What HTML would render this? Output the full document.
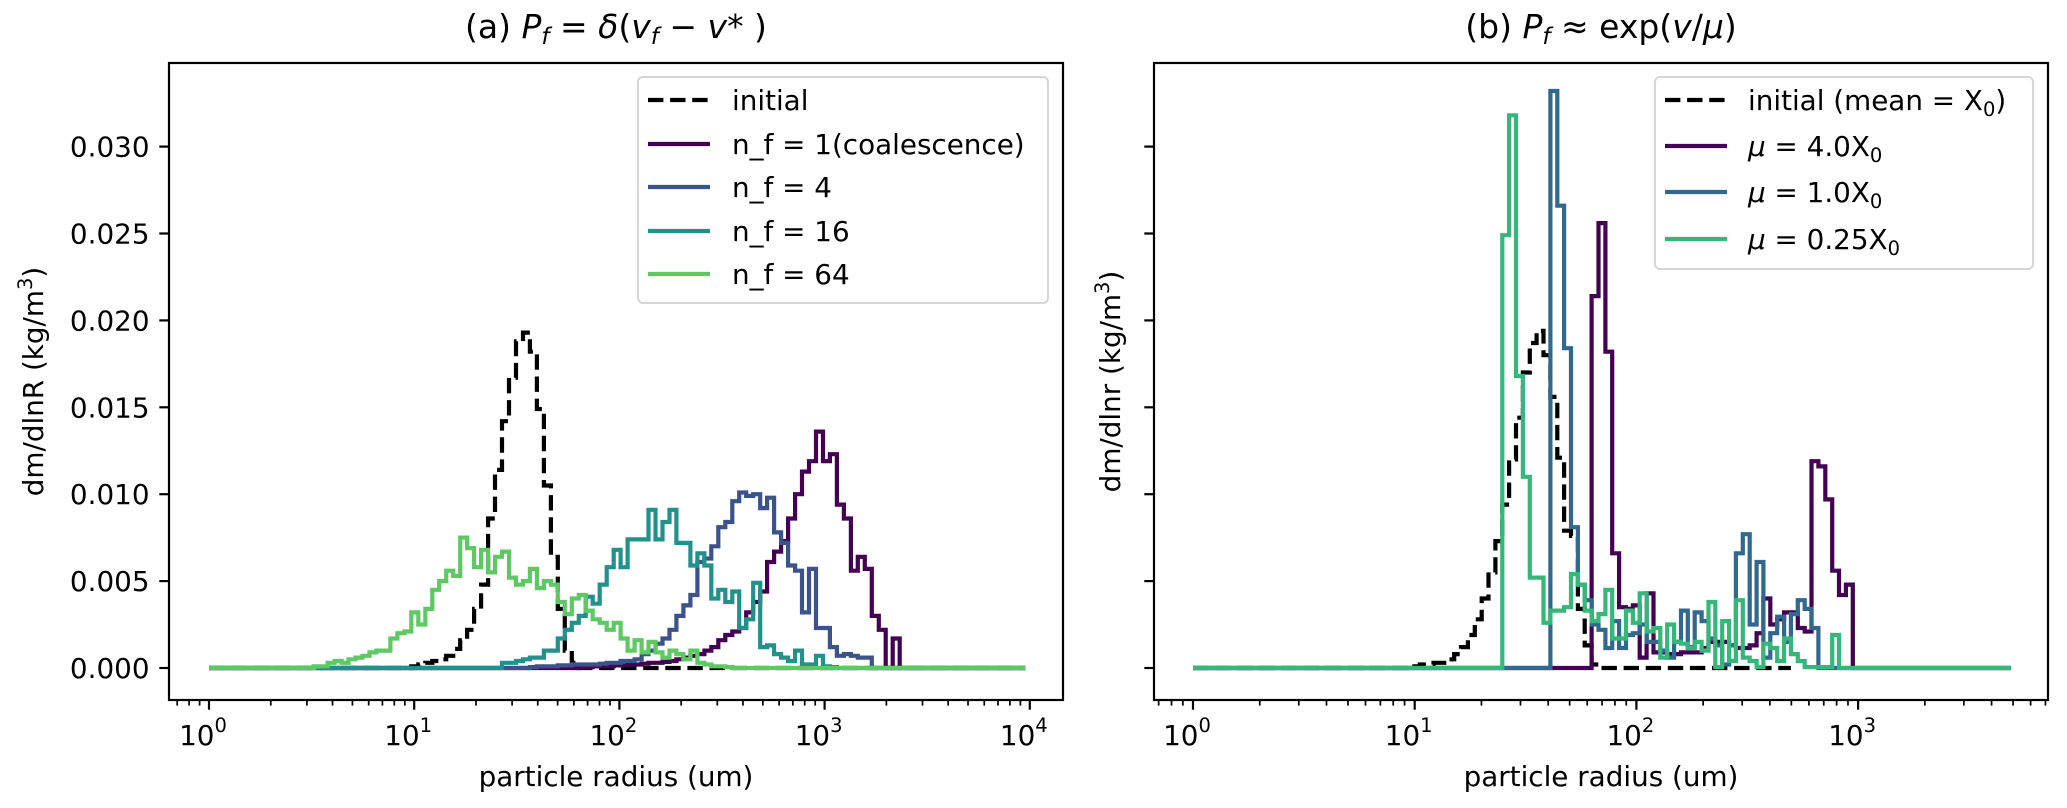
<!DOCTYPE html>
<html><head><meta charset="utf-8"><style>
html,body{margin:0;padding:0;background:#fff;}
svg{display:block;font-family:"DejaVu Sans","Liberation Sans",sans-serif;}
</style></head><body>
<svg id="fig" width="2067" height="808" viewBox="0 0 2067 808" xmlns="http://www.w3.org/2000/svg">
<rect width="2067" height="808" fill="#fff"/>
</svg>
<script>
// ---------- data (values in units of 1e-3 kg/m^3) ----------
const yTicks = [0, 5, 10, 15, 20, 25, 30];
const yTickLabels = ["0.000","0.005","0.010","0.015","0.020","0.025","0.030"];
// panel (a): log-spaced bins, start bin index + values
const aBinWidth = 0.034;
const aBinCount = 117;
const aInitialStart = 29;
const aInitial = [0.1,0.2,0.3,0.4,0.5,0.7,1.1,1.6,2.2,3.4,4.8,8.6,11.4,14.2,16.7,18.8,19.3,18.2,14.9,10.5,6.4,3.4,1.0,0.3];
const aNf1Start = 53;
const aNf1 = [0.05,0.05,0.1,0.1,0.1,0.15,0.15,0.2,0.2,0.25,0.3,0.3,0.35,0.4,0.5,0.6,0.7,0.8,1.0,1.2,1.6,1.9,2.1,2.3,3.2,3.8,4.4,6.1,6.7,7.3,8.6,10.0,11.3,11.9,13.6,11.9,12.3,9.4,8.6,5.6,6.4,5.7,3.0,2.2,0,1.7];
const aNf4Start = 46;
const aNf4 = [0.05,0.1,0.1,0.1,0.15,0.15,0.2,0.2,0.2,0.2,0.25,0.3,0.3,0.4,0.4,0.5,0.8,1.0,1.4,1.7,2.2,3.0,3.6,4.2,6.1,6.3,7.0,8.1,8.4,9.6,10.1,9.9,10.0,9.2,9.8,7.8,7.2,5.9,5.6,3.2,5.7,2.3,2.3,1.2,0.7,0.8,0.7,0.6,0.6];
const aNf16Start = 42;
const aNf16 = [0.3,0.3,0.4,0.5,0.6,0.6,1.0,1.0,1.7,2.2,2.6,3.0,4.1,3.7,4.8,5.8,6.8,5.8,7.4,7.4,7.4,9.1,7.4,8.4,9.1,7.2,7.2,5.9,6.6,5.9,4.0,4.5,3.8,4.4,2.3,2.8,4.9,1.2,1.3,0.8,0.6,0.4,1.0,0.2,0.2,0.7,0.1,0.05];
const aNf64Start = 15;
const aNf64 = [0.1,0.1,0.3,0.4,0.3,0.5,0.6,0.7,0.9,1.0,1.0,1.7,2.0,2.1,3.2,2.5,3.4,4.5,5.0,5.6,5.3,7.5,6.9,5.8,6.8,5.5,6.4,6.7,5.2,4.8,5.0,5.7,4.6,5.0,4.8,3.8,3.1,4.0,4.2,3.3,2.8,2.6,2.2,2.6,1.7,1.0,1.6,0.9,1.5,0.9,0.6,1.0,0.8,0.5,1.0,0.3,0.2,0.1,0.1,0.05];
// panel (b)
const bBinWidth = 0.031;
const bBinCount = 119;
const bInitialCount = 87;
const bInitialStart = 31;
const bInitial = [0.1,0.1,0.2,0.2,0.3,0.3,0.5,0.8,1.2,1.9,2.8,4.0,5.5,7.3,9.4,12.0,14.4,17.0,18.7,19.4,18.0,15.6,12.1,7.9,7.6,3.4,1.3,0.2];
const bMu4Start = 58;
const bMu4 = [21.4,25.6,18.2,6.6,3.5,3.4,3.6,0.6,4.3,0.9,0.9,0.8,0.8,0.9,0.9,0.9,1.15,1.5,1.5,1.5,1.3,1.15,1.15,1.3,2.0,4.0,2.5,2.8,3.2,3.2,2.3,2.1,11.9,11.6,9.7,5.6,4.2,4.8];
const bMu1Start = 52;
const bMu1 = [33.2,26.6,18.4,8.1,4.8,3.9,2.5,2.2,1.15,2.7,1.15,1.9,2.0,2.5,1.5,1.5,1.0,0.6,1.5,3.3,1.2,3.2,2.7,1.7,1.3,0.2,1.3,6.6,7.7,2.5,6.1,0.6,2.0,2.95,1.5,3.1,3.9,3.4,2.3];
const bMu025Start = 45;
const bMu025 = [24.9,31.8,16.8,11.0,5.2,5.2,2.6,3.3,3.3,3.5,5.4,4.8,3.3,2.7,3.1,4.5,1.7,1.7,3.3,2.6,4.3,2.1,2.3,0.6,2.5,1.5,1.4,1.15,1.5,1.0,3.8,0.05,2.7,0.4,3.9,0.6,0.4,0.05,1.4,1.15,0.4,1.7,0.8,0.4,0.05,0.05,0.05,0.05,1.9];

// ---------- helpers ----------
const NS = "http://www.w3.org/2000/svg";
const svg = document.getElementById('fig');
function mk(tag, attrs, parent) {
  const e = document.createElementNS(NS, tag);
  for (const k in attrs) e.setAttribute(k, attrs[k]);
  (parent || svg).appendChild(e);
  return e;
}
const Y0 = 668, YS = 17.38;
function yPix(v) { return Y0 - v * YS; }
const panels = {
  a: {L:169, R:1063, T:63, B:700, x0:209, dec:205.2, xmin:-0.195, xmax:4.166},
  b: {L:1154, R:2048, T:63, B:700, x0:1193, dec:221.7, xmin:-0.176, xmax:3.861}
};
function xPix(p, lg) { return p.x0 + lg * p.dec; }

function stepPath(p, bw, n, start, vals) {
  let d = "";
  for (let i = 0; i < n; i++) {
    const v = (i >= start && i < start + vals.length) ? vals[i - start] : 0;
    const x1 = xPix(p, i * bw), x2 = xPix(p, (i + 1) * bw), y = yPix(v);
    d += (i === 0 ? "M" : "L") + x1.toFixed(1) + " " + y.toFixed(1) + " L" + x2.toFixed(1) + " " + y.toFixed(1) + " ";
  }
  return d;
}

function drawAxes(p, key, showYLabels, ylabel) {
  yTicks.forEach((t, i) => {
    const y = yPix(t);
    const tk = mk('line', {x1:p.L-9.7, x2:p.L, y1:y, y2:y, stroke:'#000', 'stroke-width':2.2});
    
    
    if (showYLabels) {
      const tx = mk('text', {x:p.L-19.5, y:y+10, 'text-anchor':'end', 'font-size':27.8, fill:'#000'});
      tx.textContent = yTickLabels[i];
      
      
    }
  });
  for (let k = Math.floor(p.xmin); k <= Math.ceil(p.xmax); k++) {
    for (let m = 1; m <= 9; m++) {
      const lg = k + Math.log10(m);
      if (lg < p.xmin || lg > p.xmax) continue;
      const x = xPix(p, lg);
      const len = m === 1 ? 9.7 : 5.6;
      const tk = mk('line', {x1:x, x2:x, y1:p.B, y2:p.B+len, stroke:'#000', 'stroke-width': m===1?2.2:1.7});
      
      
      if (m === 1) {
        const tx = mk('text', {x:x-6, y:745, 'text-anchor':'middle', 'font-size':27.8, fill:'#000'});
        
        
        const t1 = mk('tspan', {}, tx); t1.textContent = '10';
        const t2 = mk('tspan', {dy:-13, 'font-size':19.5}, tx); t2.textContent = String(k);
      }
    }
  }
  const xl = mk('text', {x:(p.L+p.R)/2, y:786, 'text-anchor':'middle', 'font-size':27.8, fill:'#000'});
  xl.textContent = 'particle radius (um)';
  
  
  const lx = key === 'a' ? 43 : 1120;
  const yl = mk('text', {x:lx, y:(p.T+p.B)/2, 'text-anchor':'middle', 'font-size':27.8, fill:'#000', transform:`rotate(-90 ${lx} ${(p.T+p.B)/2})`});
  
  
  const s1 = mk('tspan', {}, yl); s1.textContent = ylabel + ' (kg/m';
  const s2 = mk('tspan', {dy:-11, 'font-size':19.5}, yl); s2.textContent = '3';
  const s3 = mk('tspan', {dy:11}, yl); s3.textContent = ')';
}

function frame(p) {
  const r = mk('rect', {x:p.L, y:p.T, width:p.R-p.L, height:p.B-p.T, fill:'none', stroke:'#000', 'stroke-width':2.2});
  
  
}

function series(p, bw, n, start, vals, color, dashed, name) {
  const clipId = 'clip' + (p === panels.a ? 'a' : 'b');
  const pa = mk('path', {d:stepPath(p, bw, n, start, vals), fill:'none', stroke:color, 'stroke-width':4.2, 'stroke-linejoin':'miter', 'clip-path':`url(#${clipId})`});
  if (dashed) pa.setAttribute('stroke-dasharray', '15.4 6.7');
  
  
}

const defs = mk('defs', {});
['a','b'].forEach(k => {
  const p = panels[k];
  const c = mk('clipPath', {id:'clip'+k}, defs);
  mk('rect', {x:p.L, y:p.T, width:p.R-p.L, height:p.B-p.T}, c);
});

const A = panels.a;
drawAxes(A, 'a', true, 'dm/dlnR');
series(A, aBinWidth, aBinCount, aInitialStart, aInitial, '#000', true, 'initial-line-a');
series(A, aBinWidth, aBinCount, aNf1Start, aNf1, '#440154', false, 'nf1-line');
series(A, aBinWidth, aBinCount, aNf4Start, aNf4, '#3b528b', false, 'nf4-line');
series(A, aBinWidth, aBinCount, aNf16Start, aNf16, '#21918c', false, 'nf16-line');
series(A, aBinWidth, aBinCount, aNf64Start, aNf64, '#5ec962', false, 'nf64-line');
frame(A);

const B = panels.b;
drawAxes(B, 'b', false, 'dm/dlnr');
series(B, bBinWidth, bInitialCount, bInitialStart, bInitial, '#000', true, 'initial-line-b');
series(B, bBinWidth, bBinCount, bMu4Start, bMu4, '#440154', false, 'mu4-line');
series(B, bBinWidth, bBinCount, bMu1Start, bMu1, '#31688e', false, 'mu1-line');
series(B, bBinWidth, bBinCount, bMu025Start, bMu025, '#35b779', false, 'mu025-line');
frame(B);
</script>
<script>
(function(){
  const svg = document.getElementById('fig');
  svg.insertAdjacentHTML('beforeend', `
  <text x="616" y="38" text-anchor="middle" font-size="33" fill="#000">(a) <tspan font-style="italic">P</tspan><tspan font-style="italic" font-size="23" dy="6">f</tspan><tspan dy="-6"> = </tspan><tspan font-style="italic">δ</tspan>(<tspan font-style="italic">v</tspan><tspan font-style="italic" font-size="23" dy="6">f</tspan><tspan dy="-6"> − </tspan><tspan font-style="italic">v</tspan>* )</text>
  <text x="1601" y="38" text-anchor="middle" font-size="33" fill="#000">(b) <tspan font-style="italic">P</tspan><tspan font-style="italic" font-size="23" dy="6">f</tspan><tspan dy="-6"> ≈ exp(</tspan><tspan font-style="italic">v</tspan>/<tspan font-style="italic">μ</tspan>)</text>

  <g>
    <rect x="638" y="77" width="410" height="226" rx="5" fill="#fff" fill-opacity="0.8" stroke="#d6d6d6" stroke-width="2"/>
    <g><line x1="648" x2="710" y1="100" y2="100" stroke="#000" stroke-width="4.2" stroke-dasharray="15.4 6.7"/><text x="732" y="110" font-size="27.8">initial</text></g>
    <g><line x1="648" x2="710" y1="144" y2="144" stroke="#440154" stroke-width="4.2"/><text x="732" y="154" font-size="27.8">n_f = 1(coalescence)</text></g>
    <g><line x1="648" x2="710" y1="187" y2="187" stroke="#3b528b" stroke-width="4.2"/><text x="732" y="197" font-size="27.8">n_f = 4</text></g>
    <g><line x1="648" x2="710" y1="231" y2="231" stroke="#21918c" stroke-width="4.2"/><text x="732" y="241" font-size="27.8">n_f = 16</text></g>
    <g><line x1="648" x2="710" y1="274" y2="274" stroke="#5ec962" stroke-width="4.2"/><text x="732" y="284" font-size="27.8">n_f = 64</text></g>
  </g>

  <g>
    <rect x="1655" y="77" width="378" height="192" rx="5" fill="#fff" fill-opacity="0.8" stroke="#d6d6d6" stroke-width="2"/>
    <g><line x1="1665" x2="1727" y1="100" y2="100" stroke="#000" stroke-width="4.2" stroke-dasharray="15.4 6.7"/><text x="1748" y="110" font-size="27.8">initial (mean = X<tspan font-size="19.5" dy="6">0</tspan><tspan dy="-6">)</tspan></text></g>
    <g><line x1="1665" x2="1727" y1="146" y2="146" stroke="#440154" stroke-width="4.2"/><text x="1748" y="156" font-size="27.8"><tspan font-style="italic">μ</tspan> = 4.0X<tspan font-size="19.5" dy="6">0</tspan></text></g>
    <g><line x1="1665" x2="1727" y1="192" y2="192" stroke="#31688e" stroke-width="4.2"/><text x="1748" y="202" font-size="27.8"><tspan font-style="italic">μ</tspan> = 1.0X<tspan font-size="19.5" dy="6">0</tspan></text></g>
    <g><line x1="1665" x2="1727" y1="239" y2="239" stroke="#35b779" stroke-width="4.2"/><text x="1748" y="249" font-size="27.8"><tspan font-style="italic">μ</tspan> = 0.25X<tspan font-size="19.5" dy="6">0</tspan></text></g>
  </g>`);
})();
</script>
</body></html>
